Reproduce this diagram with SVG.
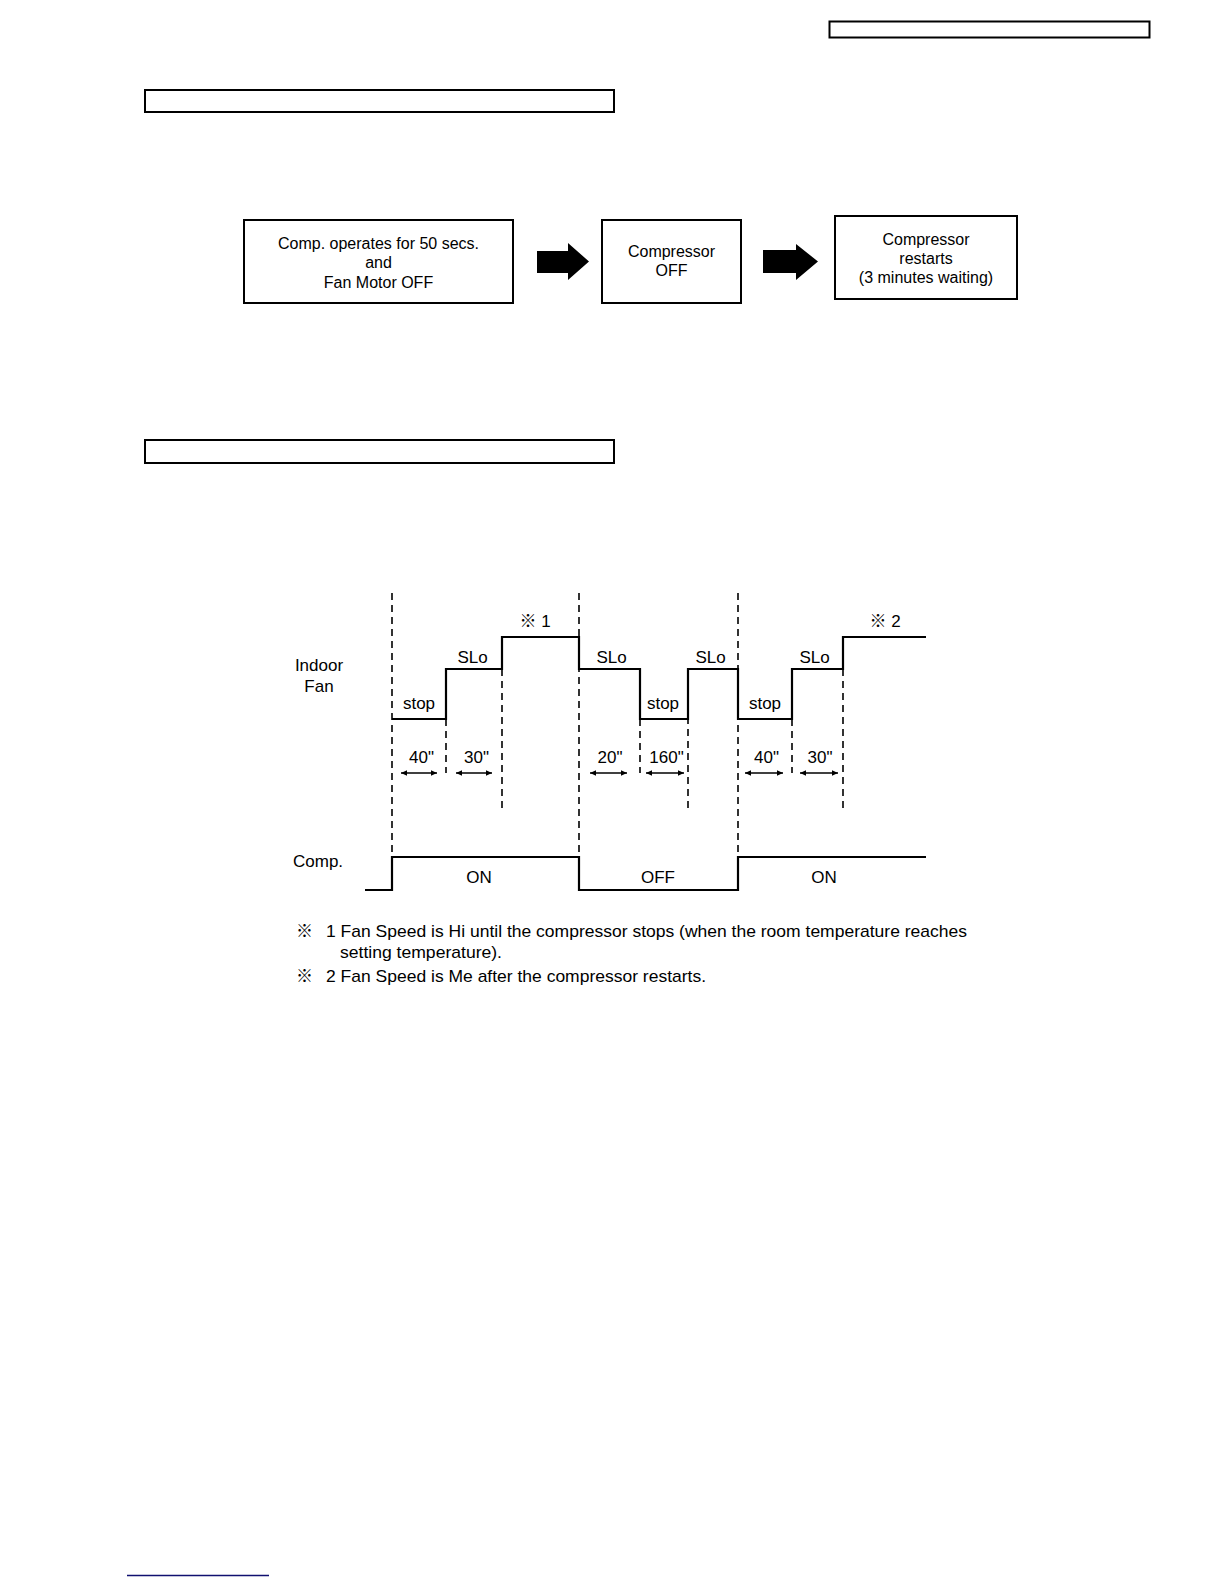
<svg xmlns="http://www.w3.org/2000/svg" width="1224" height="1584" viewBox="0 0 1224 1584">
<style>
  .box { fill: #fff; stroke: #000; stroke-width: 2; }
  .hdr { fill: none; stroke: #000; stroke-width: 2; }
  .t { font-family: "Liberation Sans", Arial, "Noto Sans CJK JP", sans-serif; fill: #000; }
  .b16 { font-size: 16px; text-anchor: middle; }
  .d17 { font-size: 17px; text-anchor: middle; }
  .ref { font-family: "Noto Sans CJK JP", sans-serif; font-weight: bold; }
  .wave { fill: none; stroke: #000; stroke-width: 2.2; }
  .dash { fill: none; stroke: #000; stroke-width: 1.6; stroke-dasharray: 7 5; }
  .dim { fill: none; stroke: #000; stroke-width: 1.5; marker-start: url(#ah); marker-end: url(#ah); }
  .blk { fill: #000; }
</style>
<defs>
  <marker id="ah" viewBox="0 0 10 10" refX="10" refY="5" markerWidth="7" markerHeight="6" orient="auto-start-reverse" markerUnits="userSpaceOnUse">
    <path d="M0,0.5 L10,5 L0,9.5 Z" fill="#000"/>
  </marker>
</defs>
<rect width="1224" height="1584" fill="#fff"/>

<!-- header boxes -->
<rect id="page-header" class="hdr" x="829.5" y="21.5" width="320" height="16" stroke-width="1.5"/>
<rect id="section-title-1" class="hdr" x="145" y="90" width="469" height="22"/>
<rect id="section-title-2" class="hdr" x="145" y="440" width="469" height="23"/>

<!-- flow nodes -->
<g id="node-comp-operates">
  <rect class="box" x="244" y="220" width="269" height="83"/>
  <text class="t b16" x="378.5" y="249">Comp. operates for 50 secs.</text>
  <text class="t b16" x="378.5" y="268">and</text>
  <text class="t b16" x="378.5" y="288">Fan Motor OFF</text>
</g>
<g id="node-compressor-off">
  <rect class="box" x="602" y="220" width="139" height="83"/>
  <text class="t b16" x="671.5" y="257">Compressor</text>
  <text class="t b16" x="671.5" y="276">OFF</text>
</g>
<g id="node-compressor-restarts">
  <rect class="box" x="835" y="216" width="182" height="83"/>
  <text class="t b16" x="926" y="245">Compressor</text>
  <text class="t b16" x="926" y="264">restarts</text>
  <text class="t b16" x="926" y="283">(3 minutes waiting)</text>
</g>
<g id="connectors">
  <polygon class="blk" points="537,251 568,251 568,243 589,261.5 568,280 568,273 537,273"/>
  <polygon class="blk" points="763,250 796,250 796,244 818,261.5 796,280 796,273 763,273"/>
</g>

<!-- timing chart -->
<g id="timing-chart">
  <g id="dashed-lines">
    <line class="dash" x1="392" y1="593" x2="392" y2="857"/>
    <line class="dash" x1="579" y1="593" x2="579" y2="857"/>
    <line class="dash" x1="738" y1="593" x2="738" y2="857"/>
    <line class="dash" x1="446" y1="719" x2="446" y2="773"/>
    <line class="dash" x1="502" y1="669" x2="502" y2="808"/>
    <line class="dash" x1="640" y1="719" x2="640" y2="773"/>
    <line class="dash" x1="688" y1="669" x2="688" y2="808"/>
    <line class="dash" x1="792" y1="719" x2="792" y2="773"/>
    <line class="dash" x1="843" y1="669" x2="843" y2="808"/>
  </g>
  <path id="fan-wave" class="wave" d="M392,719 H446 V669 H502 V637 H579 V669 H640 V719 H688 V669 H738 V719 H792 V669 H843 V637 H926"/>
  <path id="comp-wave" class="wave" d="M365,890 H392 V857 H579 V890 H738 V857 H926"/>
  <g id="durations">
    <line class="dim" x1="401" y1="773" x2="437" y2="773"/>
    <line class="dim" x1="456" y1="773" x2="492" y2="773"/>
    <line class="dim" x1="590" y1="773" x2="627" y2="773"/>
    <line class="dim" x1="646" y1="773" x2="684" y2="773"/>
    <line class="dim" x1="745" y1="773" x2="783" y2="773"/>
    <line class="dim" x1="800" y1="773" x2="838" y2="773"/>
  </g>
  <g id="chart-labels">
    <text class="t d17" x="319" y="671">Indoor</text>
    <text class="t d17" x="319" y="692">Fan</text>
    <text class="t d17" x="419" y="709">stop</text>
    <text class="t d17" x="663" y="709">stop</text>
    <text class="t d17" x="765" y="709">stop</text>
    <text class="t d17" x="472.5" y="663">SLo</text>
    <text class="t d17" x="611.5" y="663">SLo</text>
    <text class="t d17" x="710.5" y="663">SLo</text>
    <text class="t d17" x="814.5" y="663">SLo</text>
    <text class="t d17" x="535" y="627"><tspan class="ref">※</tspan> 1</text>
    <text class="t d17" x="885" y="627"><tspan class="ref">※</tspan> 2</text>
    <text class="t d17" x="421.5" y="763">40"</text>
    <text class="t d17" x="476.5" y="763">30"</text>
    <text class="t d17" x="610" y="763">20"</text>
    <text class="t d17" x="666.5" y="763">160"</text>
    <text class="t d17" x="766.5" y="763">40"</text>
    <text class="t d17" x="820" y="763">30"</text>
    <text class="t" font-size="17" x="293" y="867">Comp.</text>
    <text class="t d17" x="479" y="883">ON</text>
    <text class="t d17" x="658" y="883">OFF</text>
    <text class="t d17" x="824" y="883">ON</text>
  </g>
</g>

<!-- notes -->
<g id="notes" font-size="17">
  <text class="t ref" x="296" y="937">※</text>
  <text class="t" x="326" y="937" textLength="641" lengthAdjust="spacingAndGlyphs">1 Fan Speed is Hi until the compressor stops (when the room temperature reaches</text>
  <text class="t" x="340" y="958" textLength="162" lengthAdjust="spacingAndGlyphs">setting temperature).</text>
  <text class="t ref" x="296" y="982">※</text>
  <text class="t" x="326" y="982" textLength="380" lengthAdjust="spacingAndGlyphs">2 Fan Speed is Me after the compressor restarts.</text>
</g>

<line id="footer-line" x1="127" y1="1575.5" x2="269" y2="1575.5" stroke="#101070" stroke-width="1.5"/>
</svg>
